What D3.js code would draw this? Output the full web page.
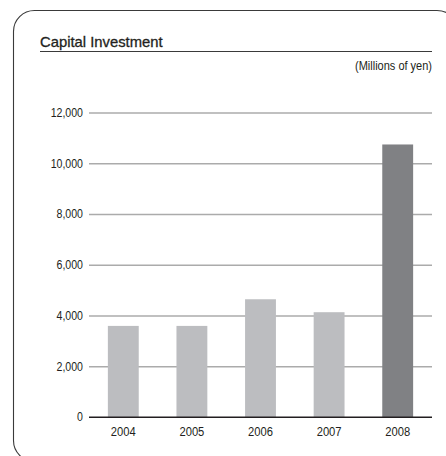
<!DOCTYPE html>
<html>
<head>
<meta charset="utf-8">
<script src="https://cdn.jsdelivr.net/npm/d3@7"></script>
<style>
  html, body { margin: 0; padding: 0; background: #fff; overflow: hidden; width: 446px; height: 456px; }
  svg { display: block; overflow: hidden; }
  text { fill: #231f20; }
</style>
</head>
<body>
<svg id="chart" width="446" height="456"></svg>
<script>
// Capital investment by fiscal year (millions of yen)
const years = ["2004", "2005", "2006", "2007", "2008"];
const investment = [3590, 3590, 4640, 4130, 10740];
const yTicks = [0, 2000, 4000, 6000, 8000, 10000, 12000];
const title = "Capital Investment";
const unitLabel = "(Millions of yen)";

const font = "\"Liberation Sans\", Arial, Helvetica, sans-serif";

const svg = d3.select("#chart");

// Panel frame: rounded left corners, top edge turning down at the far right
const frame = d3.path();
frame.moveTo(34.5, 461.5);
frame.arcTo(13.5, 461.5, 13.5, 440.5, 21);
frame.lineTo(13.5, 31.5);
frame.arcTo(13.5, 10.5, 34.5, 10.5, 21);
frame.lineTo(437, 10.5);
frame.arcTo(458, 10.5, 458, 31.5, 21);
svg.append("path")
  .attr("d", frame.toString())
  .attr("fill", "none")
  .attr("stroke", "#3a3a3a")
  .attr("stroke-width", 1.1);

// Title and its rule
svg.append("text")
  .attr("x", 40).attr("y", 46.5)
  .attr("font-family", font)
  .attr("font-size", 14.8)
  .attr("stroke", "#231f20")
  .attr("stroke-width", 0.3)
  .text(title);

svg.append("line")
  .attr("x1", 40).attr("x2", 432)
  .attr("y1", 51.5).attr("y2", 51.5)
  .attr("stroke", "#3a3a3a").attr("stroke-width", 1);

// Unit note, set in a condensed cut
svg.append("text")
  .attr("x", 432).attr("y", 69.5)
  .attr("text-anchor", "end")
  .attr("font-family", font)
  .attr("font-size", 12.3)
  .attr("textLength", 77)
  .attr("lengthAdjust", "spacingAndGlyphs")
  .text(unitLabel);

// Scales
const x = d3.scaleBand()
  .domain(years)
  .range([89, 432])
  .paddingInner(0.55)
  .paddingOuter(0.275);

const y = d3.scaleLinear()
  .domain([0, 12000])
  .range([417, 112.5]);

// Horizontal gridlines with left tick labels
const tickSqueeze = 0.86;
const yAxis = d3.axisLeft(y)
  .tickValues(yTicks)
  .tickSize(-(432 - 89))
  .tickPadding(0)
  .tickFormat(d3.format(","));

const gy = svg.append("g")
  .attr("transform", "translate(89,0)")
  .call(yAxis);
gy.select(".domain").remove();
gy.selectAll(".tick line")
  .attr("stroke", d => d === 0 ? "#231f20" : "#ababab")
  .attr("stroke-width", d => d === 0 ? 1.1 : 1.3);
gy.selectAll(".tick text")
  .attr("font-size", 12.3)
  .attr("font-family", font)
  .attr("fill", "#231f20")
  .attr("x", -6 / tickSqueeze)
  .attr("transform", `scale(${tickSqueeze},1)`);

// Bars: the latest year is shown darker
svg.append("g")
  .selectAll("rect")
  .data(years.map((yr, i) => ({ yr, v: investment[i], last: i === years.length - 1 })))
  .join("rect")
  .attr("x", d => x(d.yr))
  .attr("width", x.bandwidth())
  .attr("y", d => y(d.v))
  .attr("height", d => y(0) - y(d.v))
  .attr("fill", d => d.last ? "#808184" : "#bcbdc0");

// Zero baseline drawn over the bars
svg.append("line")
  .attr("x1", 89).attr("x2", 432)
  .attr("y1", y(0)).attr("y2", y(0))
  .attr("stroke", "#231f20").attr("stroke-width", 1.1);

// Year labels
const xAxis = d3.axisBottom(x).tickSize(0).tickPadding(9);
const gx = svg.append("g")
  .attr("transform", `translate(0,${y(0)})`)
  .call(xAxis);
gx.select(".domain").remove();
gx.selectAll(".tick text")
  .attr("font-size", 13.5)
  .attr("font-family", font)
  .attr("fill", "#231f20")
  .attr("transform", "scale(0.83,1)");
</script>
</body>
</html>
